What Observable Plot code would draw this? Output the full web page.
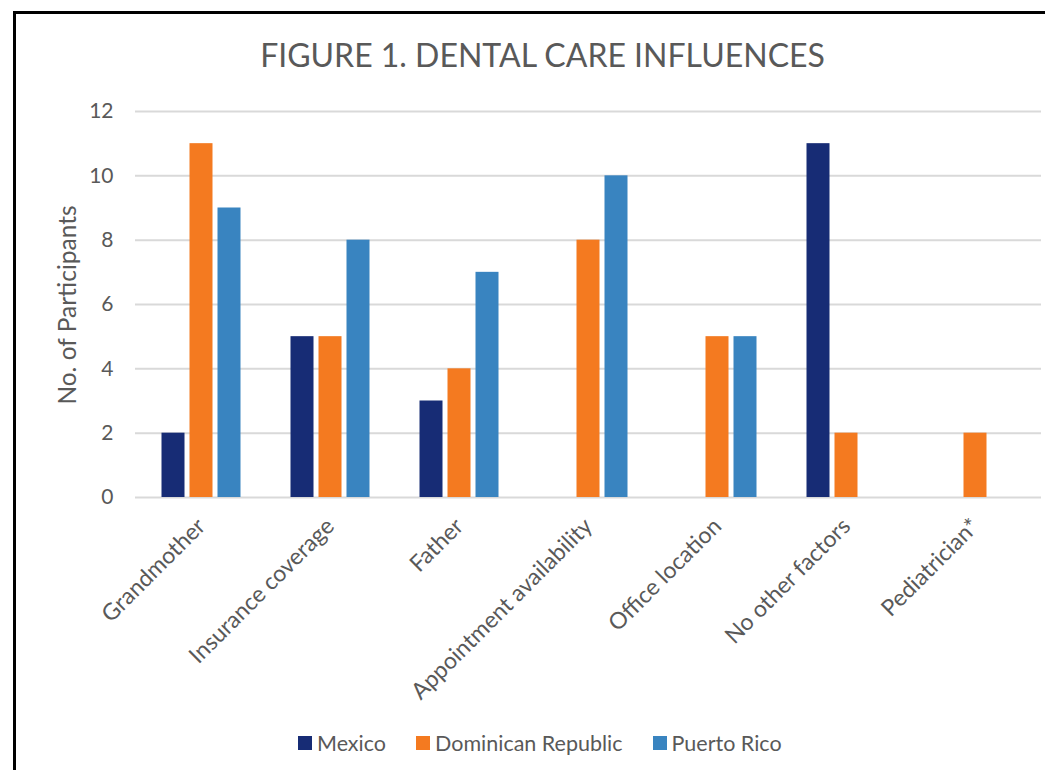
<!DOCTYPE html>
<html>
<head>
<meta charset="utf-8">
<script src="https://cdn.jsdelivr.net/npm/d3@7"></script>
<script src="https://cdn.jsdelivr.net/npm/@observablehq/plot@0.6"></script>
<style>
  body { margin: 0; background: #fff; }
  #chart { position: relative; width: 1045px; height: 770px; overflow: hidden; font-family: Lato, sans-serif; color: #595959; }
  #frame { position: absolute; left: 13px; top: 11px; width: 1100px; height: 800px; border-top: 3px solid #000; border-left: 3px solid #000; }
  #title { position: absolute; left: 0; top: 39px; width: 1085px; text-align: center; font-size: 32px; line-height: 32px; white-space: nowrap; }
  #ylabel { position: absolute; left: 67px; top: 305px; transform: translate(-50%, -50%) rotate(-90deg); font-size: 24.5px; line-height: 24px; white-space: nowrap; }
  .layer { position: absolute; left: 0; top: 0; }
  #legend { position: absolute; left: 298px; top: 732px; display: flex; align-items: center; font-size: 21.5px; line-height: 22px; white-space: nowrap; }
  #legend .item { display: flex; align-items: center; margin-right: 30px; }
  #legend .swatch { width: 14px; height: 14px; margin-right: 5px; }
</style>
</head>
<body>
<div id="chart">
  <div id="frame"></div>
  <div id="grid" class="layer"></div>
  <div id="bars" class="layer"></div>
  <div id="title">FIGURE 1. DENTAL CARE INFLUENCES</div>
  <div id="ylabel">No. of Participants</div>
  <div id="legend"></div>
</div>
<script>
// Survey answers: what influences dental care, by country of origin
const categories = ["Grandmother", "Insurance coverage", "Father", "Appointment availability", "Office location", "No other factors", "Pediatrician*"];
const countries = ["Mexico", "Dominican Republic", "Puerto Rico"];
const mexico = [2, 5, 3, 0, 0, 11, 0];
const dominicanRepublic = [11, 5, 4, 8, 5, 2, 2];
const puertoRico = [9, 8, 7, 10, 5, 0, 0];
const countryColors = ["#172c75", "#f47a20", "#3984c0"];
const yTicks = [0, 2, 4, 6, 8, 10, 12];

const seriesValues = [mexico, dominicanRepublic, puertoRico];
const rows = categories.flatMap((category, i) =>
  countries.map((country, j) => ({ category, country, value: seriesValues[j][i] }))
);

// Shared frame for both layers
const frame = {
  width: 1045,
  height: 700,
  marginTop: 111,
  marginBottom: 203,
  marginLeft: 135,
  marginRight: 4,
  style: { fontFamily: "Lato, sans-serif", fontSize: "21px", color: "#595959", background: "transparent", overflow: "visible" }
};

// Back layer: horizontal gridlines across the whole plot area and the y axis
const gridLayer = Plot.plot({
  ...frame,
  x: { domain: [0, 1], axis: null },
  y: { domain: [0, 12], label: null },
  marks: [
    Plot.ruleY(yTicks, { stroke: "#d9d9d9", strokeWidth: 2 }),
    Plot.axisY({ ticks: yTicks, tickSize: 0, tickPadding: 22, label: null, fontSize: 21, fill: "#595959" })
  ]
});

// Front layer: clustered bars, one facet per influence
const barLayer = Plot.plot({
  ...frame,
  fx: { domain: categories, paddingInner: 0.35, paddingOuter: 0.175, label: null },
  x: { domain: countries, padding: 0, axis: null },
  y: { domain: [0, 12], axis: null },
  color: { domain: countries, range: countryColors },
  marks: [
    Plot.barY(rows, { fx: "category", x: "country", y: "value", fill: "country", insetLeft: 2.5, insetRight: 2.5 }),
    Plot.axisFx({ anchor: "bottom", tickRotate: -45, tickSize: 0, tickPadding: 25, label: null, fontSize: 23, fill: "#595959" })
  ]
});

document.getElementById("grid").append(gridLayer);
document.getElementById("bars").append(barLayer);

// Legend row below the chart
const legend = document.getElementById("legend");
countries.forEach((c, i) => {
  const item = document.createElement("div");
  item.className = "item";
  const sw = document.createElement("div");
  sw.className = "swatch";
  sw.style.background = countryColors[i];
  const label = document.createElement("span");
  label.textContent = c;
  item.append(sw, label);
  legend.append(item);
});
</script>
</body>
</html>
